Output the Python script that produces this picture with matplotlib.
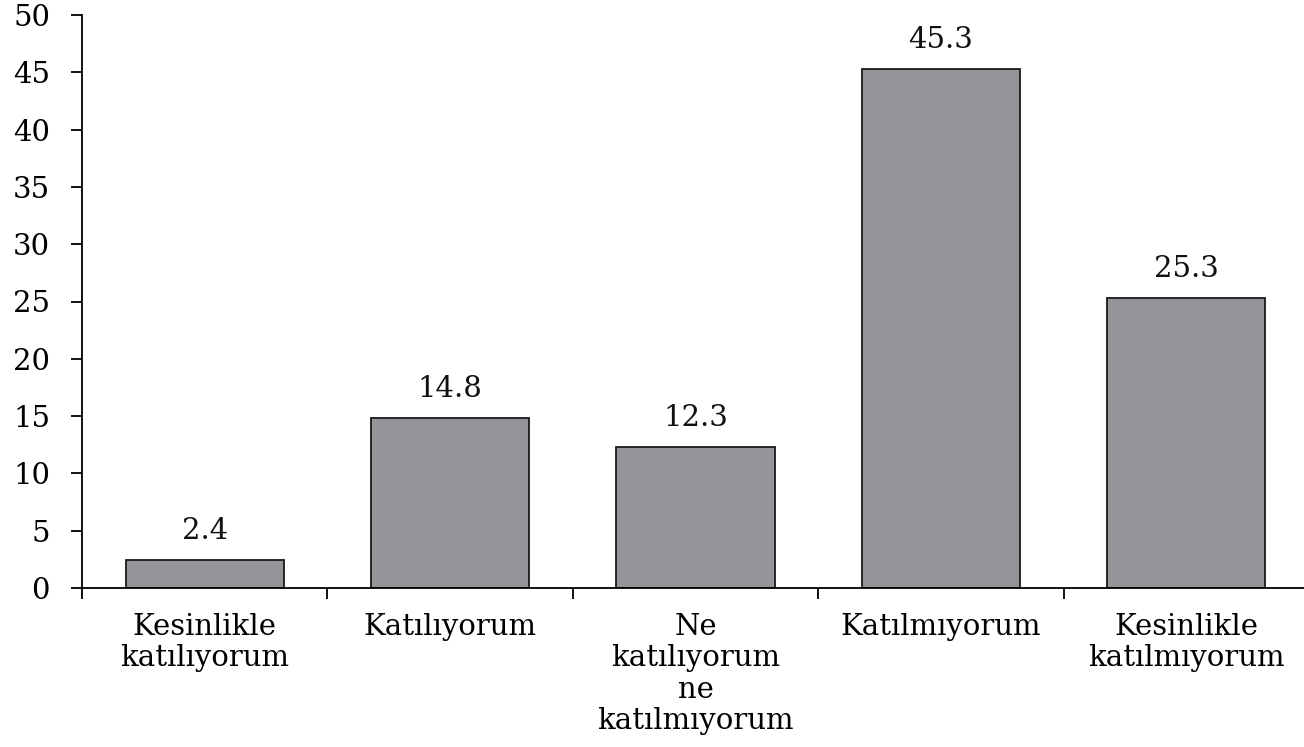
import matplotlib
matplotlib.use("Agg")
import matplotlib.pyplot as plt
import numpy as np

categories = ["Kesinlikle\nkatılıyorum", "Katılıyorum", "Ne\nkatılıyorum\nne\nkatılmıyorum",
              "Katılmıyorum", "Kesinlikle\nkatılmıyorum"]
values = [2.4, 14.8, 12.3, 45.3, 25.3]
yticks = [0, 5, 10, 15, 20, 25, 30, 35, 40, 45, 50]

plt.rcParams['font.family'] = ['DejaVu Serif', 'Liberation Serif']

fig = plt.figure(figsize=(13.04, 7.47), dpi=100)
ax = fig.add_axes([82/1304, 159/747, 1227/1304, 573/747])

x = np.arange(len(categories))
ax.bar(x, values, width=0.645, color="#939598", edgecolor="#1a1a1a", linewidth=1.3)
for xi, v in zip(x, values):
    ax.annotate(f"{v:.1f}", (xi, v), xytext=(0, 11), textcoords="offset points",
                ha="center", va="bottom", fontsize=21, color="#111111")

ax.set_xlim(-0.5, len(categories) - 0.5)
ax.set_ylim(0, 50)
ax.set_yticks(yticks)
ax.set_yticklabels([str(t) for t in yticks], fontsize=21)
ax.set_xticks(np.arange(len(categories) + 1) - 0.5)
ax.set_xticklabels([])
ax.set_xticks(x, minor=True)
ax.set_xticklabels(categories, minor=True, fontsize=21, linespacing=1.15, va="top")
ax.tick_params(axis="x", which="minor", length=0, pad=18)
ax.tick_params(axis="x", which="major", length=8, width=1.3, direction="out")
ax.tick_params(axis="y", length=8, width=1.3, direction="out", pad=15)
for s in ["top", "right"]:
    ax.spines[s].set_visible(False)
ax.spines["left"].set_linewidth(1.3)
ax.spines["bottom"].set_linewidth(1.3)

fig.savefig("out.png", dpi=100)
